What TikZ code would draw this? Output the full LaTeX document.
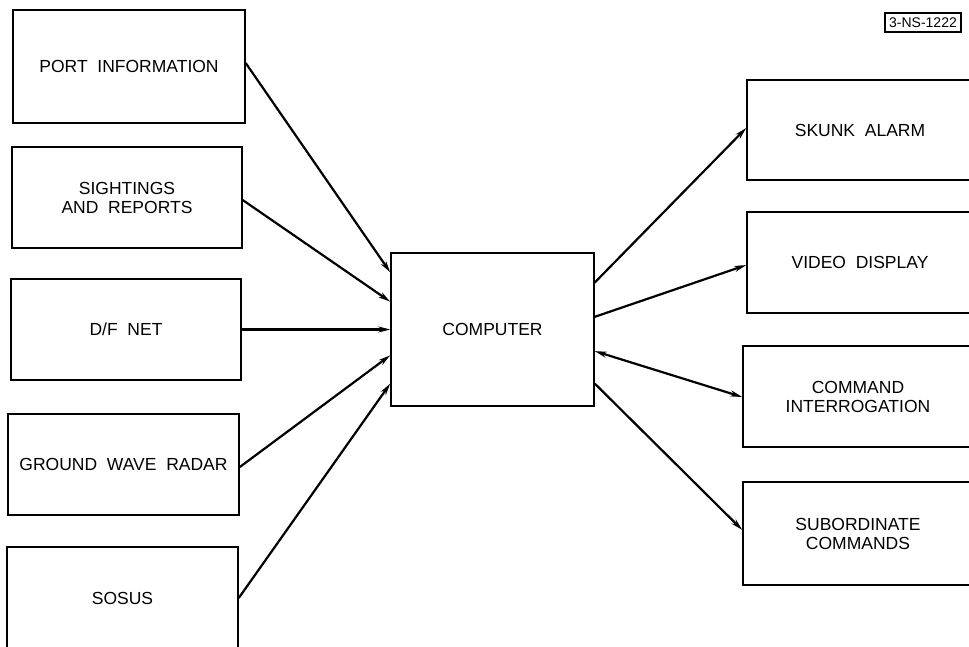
\documentclass[tikz,border=0pt]{standalone}
\usepackage{fontspec}
\setmainfont{Liberation Sans}
\usetikzlibrary{calc,arrows.meta}
\begin{document}
\begin{tikzpicture}[x=1pt,y=-1pt,
  blk/.style={draw,line width=1.5pt,inner sep=0pt,align=center,
    font=\fontsize{17.5}{19}\selectfont},
  flow/.style={line width=2.2pt,-{Stealth[length=12pt,width=6pt]}},
  bflow/.style={line width=2.2pt,{Stealth[length=12pt,width=6pt]}-{Stealth[length=12pt,width=6pt]}},
  tag/.style={draw,line width=1.4pt,inner sep=0pt,minimum width=76pt,minimum height=19pt,
    font=\fontsize{14}{16}\selectfont}]
\useasboundingbox (0,0) rectangle (969,647);
\clip (0,0) rectangle (969,647);
% left boxes
\node[blk,minimum width=232pt,minimum height=113pt] (port) at (129,66.5) {PORT\ \ INFORMATION};
\node[blk,minimum width=230pt,minimum height=101pt] (sight) at (127,197.5) {SIGHTINGS\\AND\ \ REPORTS};
\node[blk,minimum width=230pt,minimum height=101pt] (df) at (126,329.5) {D/F\ \ NET};
\node[blk,minimum width=231pt,minimum height=101pt] (gwr) at (123.5,464.5) {GROUND\ \ WAVE\ \ RADAR};
\node[blk,minimum width=231pt,minimum height=102pt] (sosus) at (122.5,598) {SOSUS};
% computer
\node[blk,minimum width=203pt,minimum height=153pt] (comp) at (492.5,329.5) {COMPUTER};
% right boxes
\node[blk,minimum width=226pt,minimum height=100pt] (skunk) at (860,130) {SKUNK\ \ ALARM};
\node[blk,minimum width=226pt,minimum height=101pt] (video) at (860,262.5) {VIDEO\ \ DISPLAY};
\node[blk,minimum width=230pt,minimum height=101pt] (cmd) at (858,396.5) {COMMAND\\INTERROGATION};
\node[blk,minimum width=230pt,minimum height=103pt] (sub) at (858,533.5) {SUBORDINATE\\COMMANDS};
% tag
\node[tag] (lbl) at (923,22.5) {3-NS-1222};
% inputs
\draw[flow] ($(port.north east)!0.47!(port.south east)$) -- ($(comp.north west)!0.13!(comp.south west)$);
\draw[flow] ($(sight.north east)!0.525!(sight.south east)$) -- ($(comp.north west)!0.32!(comp.south west)$);
\draw[flow] (df.east) -- (comp.west);
\draw[flow] ($(gwr.north east)!0.525!(gwr.south east)$) -- ($(comp.north west)!0.667!(comp.south west)$);
\draw[flow] (sosus.east) -- ($(comp.north west)!0.85!(comp.south west)$);
% outputs
\draw[flow] ($(comp.north east)!0.196!(comp.south east)$) -- ($(skunk.north west)!0.48!(skunk.south west)$);
\draw[flow] ($(comp.north east)!0.418!(comp.south east)$) -- ($(video.north west)!0.525!(video.south west)$);
\draw[bflow] ($(comp.north east)!0.64!(comp.south east)$) -- ($(cmd.north west)!0.505!(cmd.south west)$);
\draw[flow] ($(comp.north east)!0.85!(comp.south east)$) -- ($(sub.north west)!0.466!(sub.south west)$);
\end{tikzpicture}
\end{document}
